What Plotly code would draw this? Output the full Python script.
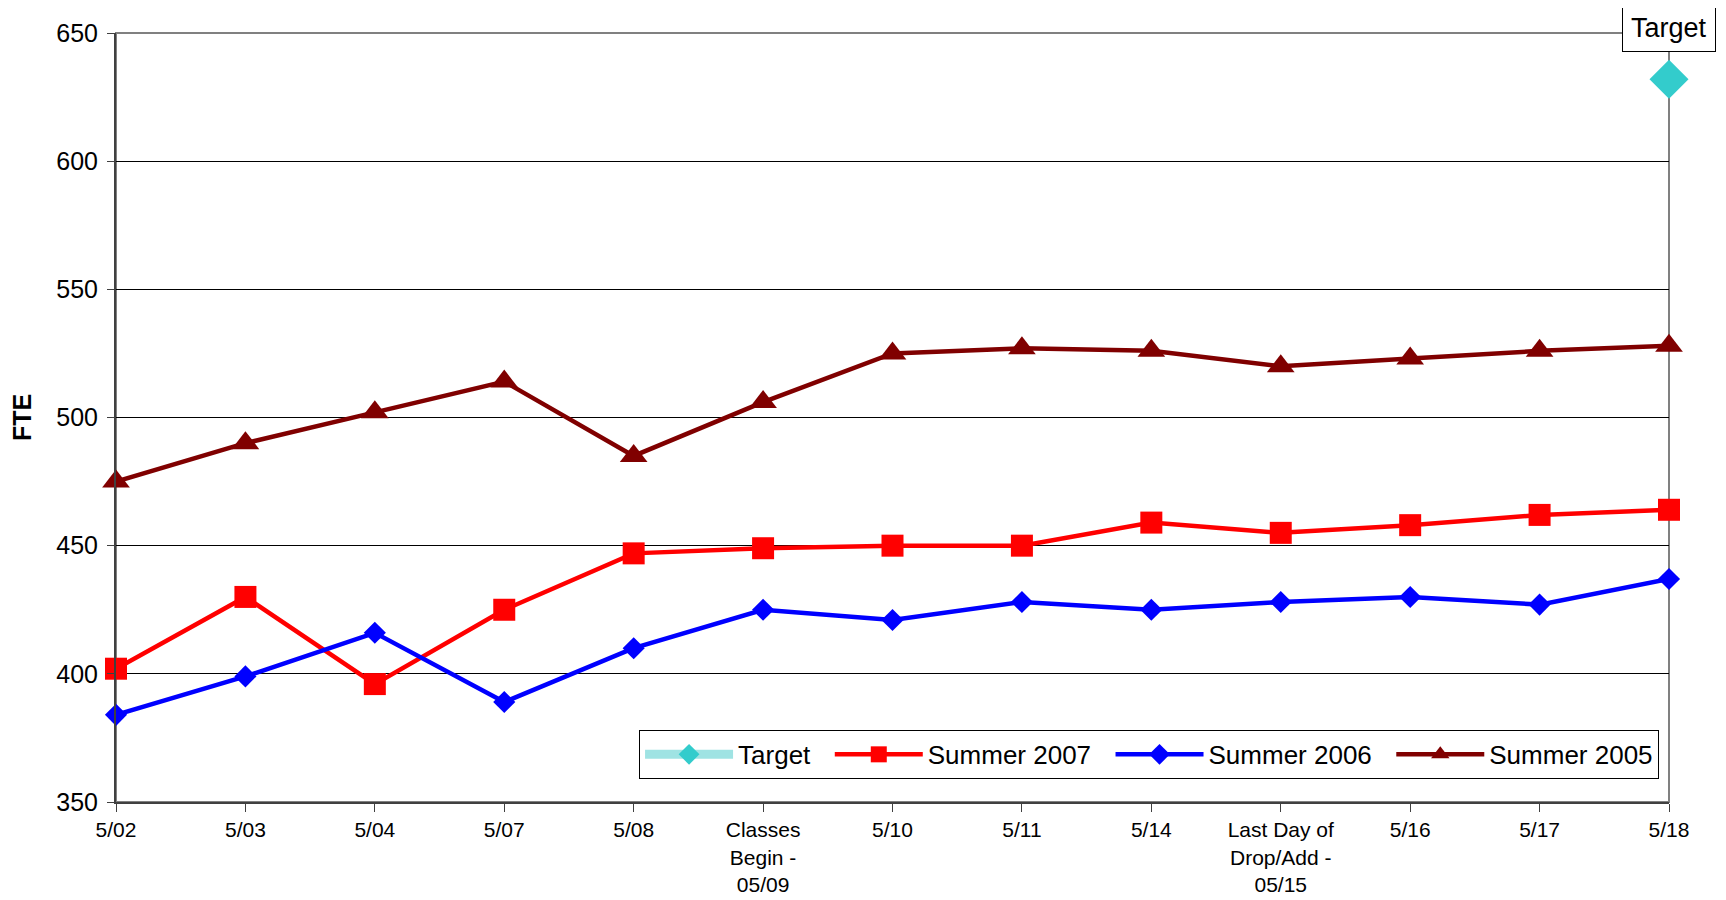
import plotly.graph_objects as go

categories = ["5/02", "5/03", "5/04", "5/07", "5/08", "Classes<br>Begin -<br>05/09",
              "5/10", "5/11", "5/14", "Last Day of<br>Drop/Add -<br>05/15", "5/16", "5/17", "5/18"]
summer_2007 = [402, 430, 396, 425, 447, 449, 450, 450, 459, 455, 458, 462, 464]
summer_2006 = [384, 399, 416, 389, 410, 425, 421, 428, 425, 428, 430, 427, 437]
summer_2005 = [475, 490, 502, 514, 485, 506, 525, 527, 526, 520, 523, 526, 528]
target_x = ["5/18"]
target_y = [632]
y_ticks = [350, 400, 450, 500, 550, 600, 650]

FONT = "Liberation Sans, Arial, sans-serif"
GAP = "\u00a0\u00a0"

fig = go.Figure()
fig.add_trace(go.Scatter(x=target_x, y=target_y, name="Target" + GAP, mode="lines+markers",
                         line=dict(color="#9fe3e3", width=9), cliponaxis=False,
                         marker=dict(symbol="diamond", size=30, color="#33CCCC")))
fig.add_trace(go.Scatter(x=categories, y=summer_2007, name="Summer 2007" + GAP, mode="lines+markers",
                         line=dict(color="#FF0000", width=4.5), cliponaxis=False,
                         marker=dict(symbol="square", size=22, color="#FF0000")))
fig.add_trace(go.Scatter(x=categories, y=summer_2006, name="Summer 2006" + GAP, mode="lines+markers",
                         line=dict(color="#0000FF", width=4.5), cliponaxis=False,
                         marker=dict(symbol="diamond", size=17, color="#0000FF")))
fig.add_trace(go.Scatter(x=categories, y=summer_2005, name="Summer 2005", mode="lines+markers",
                         line=dict(color="#800000", width=4.5), cliponaxis=False,
                         marker=dict(symbol="triangle-up", size=24, color="#800000")))

fig.add_annotation(x="5/18", y=target_y[0], text="Target", showarrow=False, yshift=51,
                   font=dict(family=FONT, size=27, color="black"),
                   bgcolor="white", bordercolor="black", borderwidth=1, borderpad=8)

# plot area border (gray)
fig.add_shape(type="rect", xref="paper", yref="paper", x0=0, x1=1, y0=0, y1=1,
              line=dict(color="#808080", width=2), layer="between")

fig.update_layout(
    width=1726, height=900,
    margin=dict(l=108, r=65, t=25, b=106),
    paper_bgcolor="white", plot_bgcolor="white",
    font=dict(family=FONT, color="black"),
    showlegend=True,
    legend=dict(orientation="h", x=0.9936, xanchor="right", y=0.03, yanchor="bottom",
                bordercolor="black", borderwidth=1, bgcolor="white",
                font=dict(family=FONT, size=26, color="black"),
                itemwidth=88, traceorder="normal", tracegroupgap=0),
    xaxis=dict(type="category", categoryorder="array", categoryarray=categories,
               range=[0, len(categories) - 1], showgrid=False, zeroline=False,
               showline=True, linecolor="#404040", linewidth=2,
               ticks="outside", ticklen=8, tickcolor="#404040", tickwidth=1,
               tickfont=dict(family=FONT, size=21, color="black"), tickangle=0),
    yaxis=dict(range=[350, 650], tickvals=y_ticks, showgrid=True, gridcolor="black", gridwidth=1,
               zeroline=False, showline=True, linecolor="#404040", linewidth=2,
               ticks="outside", ticklen=7, tickcolor="#404040", tickwidth=1,
               ticklabelstandoff=4,
               tickfont=dict(family=FONT, size=25, color="black"),
               title=dict(text="<b>FTE</b>", font=dict(family=FONT, size=25, color="black"), standoff=18)),
)

fig.write_html("out.html")
